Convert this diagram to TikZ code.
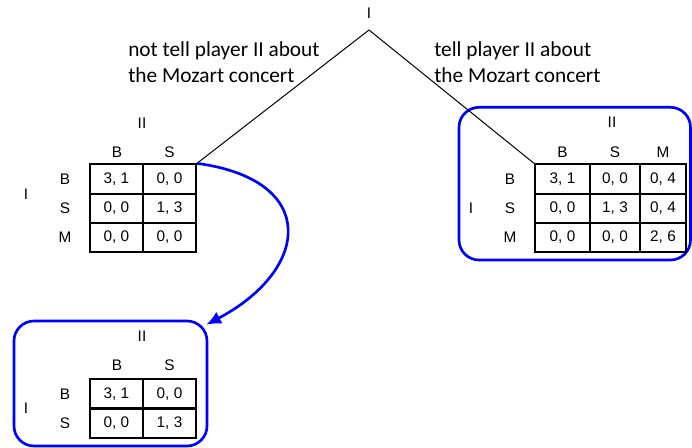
\documentclass[tikz,border=0pt]{standalone}
\usepackage{fontspec}
\setmainfont{Liberation Sans}
\newfontfamily\calibri{Carlito}
\usetikzlibrary{arrows,arrows.meta,positioning,calc}
\tikzset{lbl/.style={ % Strategy and player names
            inner sep=0pt,
            font=\fontsize{11.5}{13}\selectfont},
        cell/.style={ % One payoff cell
            draw,
            line width=1.5pt,
            minimum width=39.75pt,
            minimum height=22pt,
            inner sep=0pt,
            font=\fontsize{11.5}{13}\selectfont},
        note/.style={ % Branch labels
            inner sep=0pt,
            align=left,
            anchor=west,
            font=\calibri\fontsize{16}{19.5}\selectfont},
        branch/.style={draw, line width=0.75pt},
        group/.style={ % Blue frame round a game
            draw=blue,
            line width=2pt,
            rounded corners=15pt,
            inner sep=0pt},
        link/.style={ % Blue reduction arrow
            draw=blue,
            -{Latex[length=11pt,width=10pt]},
            line width=2pt}
        }
\begin{document}
\begin{tikzpicture}[x=0.75pt,y=-0.75pt]
    \useasboundingbox (0,0) rectangle (692,447);

    % move of player I
    \node[lbl] (root) at (369,13) {I};
    \coordinate (top) at (369,30);
    \node[note] (notell) at (128,62) {not tell player II about\\the Mozart concert};
    \node[note] (tell) at (434,62) {tell player II about\\the Mozart concert};

    % game without the Mozart news
    \node[lbl] (lII) at (142,123) {II};
    \node[lbl] (lcB) at (117,152) {B};
    \node[lbl] (lcS) at (169.5,152) {S};
    \node[lbl] (lI) at (26,194) {I};
    \node[lbl] (lrB) at (65,179) {B};
    \node[lbl] (lrS) at (65,208.3) {S};
    \node[lbl] (lrM) at (65,237.6) {M};
    \node[cell] (lB-B) at (116.5,179) {3, 1};
    \node[cell] (lB-S) at (169.5,179) {0, 0};
    \node[cell] (lS-B) at (116.5,208.3) {0, 0};
    \node[cell] (lS-S) at (169.5,208.3) {1, 3};
    \node[cell] (lM-B) at (116.5,237.6) {0, 0};
    \node[cell] (lM-S) at (169.5,237.6) {0, 0};

    % game with the Mozart news
    \node[group, minimum width=173.6pt, minimum height=114.5pt] (full) at (574.75,183.65) {};
    \node[lbl] (rII) at (612,122) {II};
    \node[lbl] (rcB) at (562.5,152) {B};
    \node[lbl] (rcS) at (615,152) {S};
    \node[lbl] (rcM) at (663,152) {M};
    \node[lbl] (rI) at (471,208.3) {I};
    \node[lbl] (rrB) at (510,179) {B};
    \node[lbl] (rrS) at (510,208.3) {S};
    \node[lbl] (rrM) at (510,237.6) {M};
    \node[cell, minimum width=41.25pt] (rB-B) at (562.5,179) {3, 1};
    \node[cell, minimum width=37.5pt] (rB-S) at (615,179) {0, 0};
    \node[cell, minimum width=34.5pt] (rB-M) at (663,179) {0, 4};
    \node[cell, minimum width=41.25pt] (rS-B) at (562.5,208.3) {0, 0};
    \node[cell, minimum width=37.5pt] (rS-S) at (615,208.3) {1, 3};
    \node[cell, minimum width=34.5pt] (rS-M) at (663,208.3) {0, 4};
    \node[cell, minimum width=41.25pt] (rM-B) at (562.5,237.6) {0, 0};
    \node[cell, minimum width=37.5pt] (rM-S) at (615,237.6) {0, 0};
    \node[cell, minimum width=34.5pt] (rM-M) at (663,237.6) {2, 6};

    % reduced game
    \node[group, minimum width=144.75pt, minimum height=93.75pt] (sub) at (110.5,383.5) {};
    \node[lbl] (sII) at (142,336.7) {II};
    \node[lbl] (scB) at (117,365) {B};
    \node[lbl] (scS) at (169.5,365) {S};
    \node[lbl] (sI) at (26,408) {I};
    \node[lbl] (srB) at (65,394) {B};
    \node[lbl] (srS) at (65,423) {S};
    \node[cell] (sB-B) at (116.5,394) {3, 1};
    \node[cell] (sB-S) at (169.5,394) {0, 0};
    \node[cell] (sS-B) at (116.5,423) {0, 0};
    \node[cell] (sS-S) at (169.5,423) {1, 3};

    \coordinate (tip) at ($(sub.north east)+(-2,5)$);

    \draw[branch] (top) -- (lB-S.north east);
    \draw[branch] (top) -- (rB-B.north west);
    \draw[link] (lB-S.north east) .. controls (320,180) and (310,270) .. (tip);
\end{tikzpicture}
\end{document}
